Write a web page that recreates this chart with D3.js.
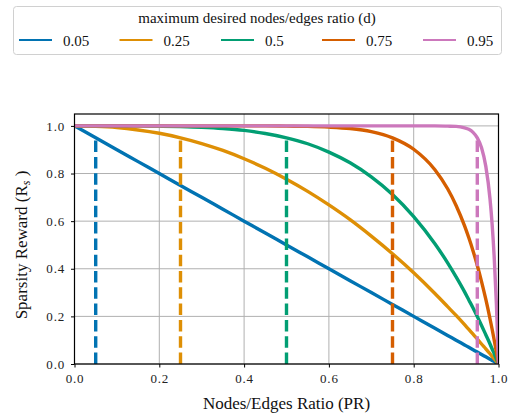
<!DOCTYPE html>
<html><head><meta charset="utf-8">
<script src="https://cdn.jsdelivr.net/npm/d3@7"></script>
<style>
html,body{margin:0;padding:0;background:#fff;}
svg{display:block;font-family:"Liberation Serif","DejaVu Serif",serif;}
</style></head>
<body><svg id="c" width="519" height="416"></svg>
<script>
// ---- data ----
const ratioPR = [0,0.05,0.1,0.15,0.2,0.25,0.3,0.35,0.4,0.45,0.5,0.55,0.6,0.65,0.7,0.75,0.8,0.85,0.88,0.9,0.92,0.93,0.94,0.95,0.96,0.97,0.98,0.985,0.99,0.995,1.0];
const seriesD = [0.05, 0.25, 0.5, 0.75, 0.95];
const seriesLabels = ["0.05","0.25","0.5","0.75","0.95"];
const reward005 = [1,0.95,0.9,0.85,0.8,0.75,0.7,0.65,0.6,0.55,0.5,0.45,0.4,0.35,0.3,0.25,0.2,0.15,0.12,0.1,0.08,0.07,0.06,0.05,0.04,0.03,0.02,0.015,0.01,0.005,0];
const reward025 = [1,0.998,0.993,0.983,0.969,0.950,0.926,0.897,0.862,0.822,0.776,0.725,0.668,0.606,0.537,0.463,0.383,0.296,0.241,0.204,0.165,0.145,0.125,0.105,0.084,0.064,0.043,0.032,0.021,0.011,0];
const reward050 = [1,1,1,1,0.999,0.997,0.994,0.989,0.981,0.968,0.950,0.925,0.890,0.845,0.786,0.712,0.619,0.505,0.425,0.366,0.303,0.269,0.235,0.199,0.162,0.123,0.084,0.063,0.043,0.021,0];
const reward075 = [1,1,1,1,1,1,1,1,1,1,0.999,0.998,0.995,0.989,0.976,0.950,0.902,0.816,0.736,0.666,0.580,0.530,0.475,0.414,0.346,0.272,0.190,0.146,0.099,0.051,0];
const reward095 = [1,1,1,1,1,1,1,1,1,1,1,1,1,1,1,1,1,1,0.999,0.998,0.992,0.986,0.973,0.950,0.908,0.831,0.693,0.586,0.444,0.254,0];
const dashTop = [0.95, 0.95, 0.95, 0.95, 0.95];
const xTicks = [0,0.2,0.4,0.6,0.8,1.0];
const yTicks = [0,0.2,0.4,0.6,0.8,1.0];
const rewards = [reward005, reward025, reward050, reward075, reward095];
const colors = ["#0173b2","#de8f05","#029e73","#d55e00","#cc78bc"];

// ---- layout ----
const svg = d3.select("#c");
const L = 74.5, R = 498.5, T = 114, B = 364;
const x = d3.scaleLinear().domain([0,1]).range([L,R]);
const y = d3.scaleLinear().domain([0,1.05]).range([B,T]);

// grid
const g = svg.append("g");
g.selectAll(".gx").data(xTicks).join("line")
  .attr("x1",d=>x(d)).attr("x2",d=>x(d)).attr("y1",B).attr("y2",T)
  .attr("stroke","#b0b0b0").attr("stroke-width",1);
g.selectAll(".gy").data(yTicks).join("line")
  .attr("x1",L).attr("x2",R).attr("y1",d=>y(d)).attr("y2",d=>y(d))
  .attr("stroke","#b0b0b0").attr("stroke-width",1);

// curves + dashed markers
svg.append("clipPath").attr("id","clipP").append("rect")
  .attr("x",L).attr("y",T).attr("width",R-L).attr("height",B-T);
const plot = svg.append("g").attr("clip-path","url(#clipP)");
const line = d3.line().x(d=>x(d[0])).y(d=>y(d[1])).curve(d3.curveMonotoneX);
seriesD.forEach((d,i)=>{
  plot.append("path").datum(ratioPR.map((p,j)=>[p,rewards[i][j]]))
    .attr("d",line).attr("fill","none").attr("stroke",colors[i])
    .attr("stroke-width",3.4).attr("stroke-linejoin","round");
  plot.append("line").attr("x1",x(d)).attr("x2",x(d)).attr("y1",y(0)).attr("y2",y(dashTop[i]))
    .attr("stroke",colors[i]).attr("stroke-width",3.4).attr("stroke-dasharray","11.5,4.8");
});

// axes
const xAxis = svg.append("g").attr("transform",`translate(0,${B})`)
  .call(d3.axisBottom(x).tickValues(xTicks).tickFormat(d3.format(".1f")).tickSizeOuter(0).tickSize(3.5).tickPadding(6));
const yAxis = svg.append("g").attr("transform",`translate(${L},0)`)
  .call(d3.axisLeft(y).tickValues(yTicks).tickFormat(d3.format(".1f")).tickSizeOuter(0).tickSize(3.5).tickPadding(6));
[xAxis,yAxis].forEach(a=>{
  a.attr("font-family",null);
  a.select(".domain").remove();
  a.selectAll("line").attr("stroke","#000").attr("stroke-width",1);
  a.selectAll("text").attr("fill","#222").style("font-size","13px").style("letter-spacing","0.8px")
   .style("font-family","'Liberation Serif',serif");
});
// spines
svg.append("rect").attr("x",L).attr("y",T).attr("width",R-L).attr("height",B-T)
  .attr("fill","none").attr("stroke","#000").attr("stroke-width",1.2);

// axis labels
svg.append("text").attr("x",(L+R)/2).attr("y",409).attr("text-anchor","middle")
  .style("font-size","17px").attr("fill","#111").text("Nodes/Edges Ratio (PR)");
const yl = svg.append("text").attr("transform",`translate(27,${(T+B)/2+6}) rotate(-90)`)
  .attr("text-anchor","middle").style("font-size","17px").attr("fill","#111");
yl.append("tspan").text("Sparsity Reward (R");
yl.append("tspan").attr("font-style","italic").attr("dy",3).style("font-size","12px").text("s");
yl.append("tspan").attr("dy",-3).text(" )");

// legend
svg.append("rect").attr("x",13.5).attr("y",6.5).attr("width",488).attr("height",48).attr("rx",3)
  .attr("fill","#fff").attr("stroke","#d0d0d0").attr("stroke-width",1);
svg.append("text").attr("x",257).attr("y",23).attr("text-anchor","middle")
  .style("font-size","15px").attr("fill","#111").text("maximum desired nodes/edges ratio (d)");
const legX = d3.scaleLinear().domain([0,4]).range([19,423]);
seriesLabels.forEach((lab,i)=>{
  const x0 = legX(i) + (i===1?-0.5:0);
  svg.append("line").attr("x1",x0).attr("x2",x0+33).attr("y1",40).attr("y2",40)
    .attr("stroke",colors[i]).attr("stroke-width",2.2);
  svg.append("text").attr("x",x0+44).attr("y",46).style("font-size","15px").attr("fill","#111").text(lab);
});
</script></body></html>
